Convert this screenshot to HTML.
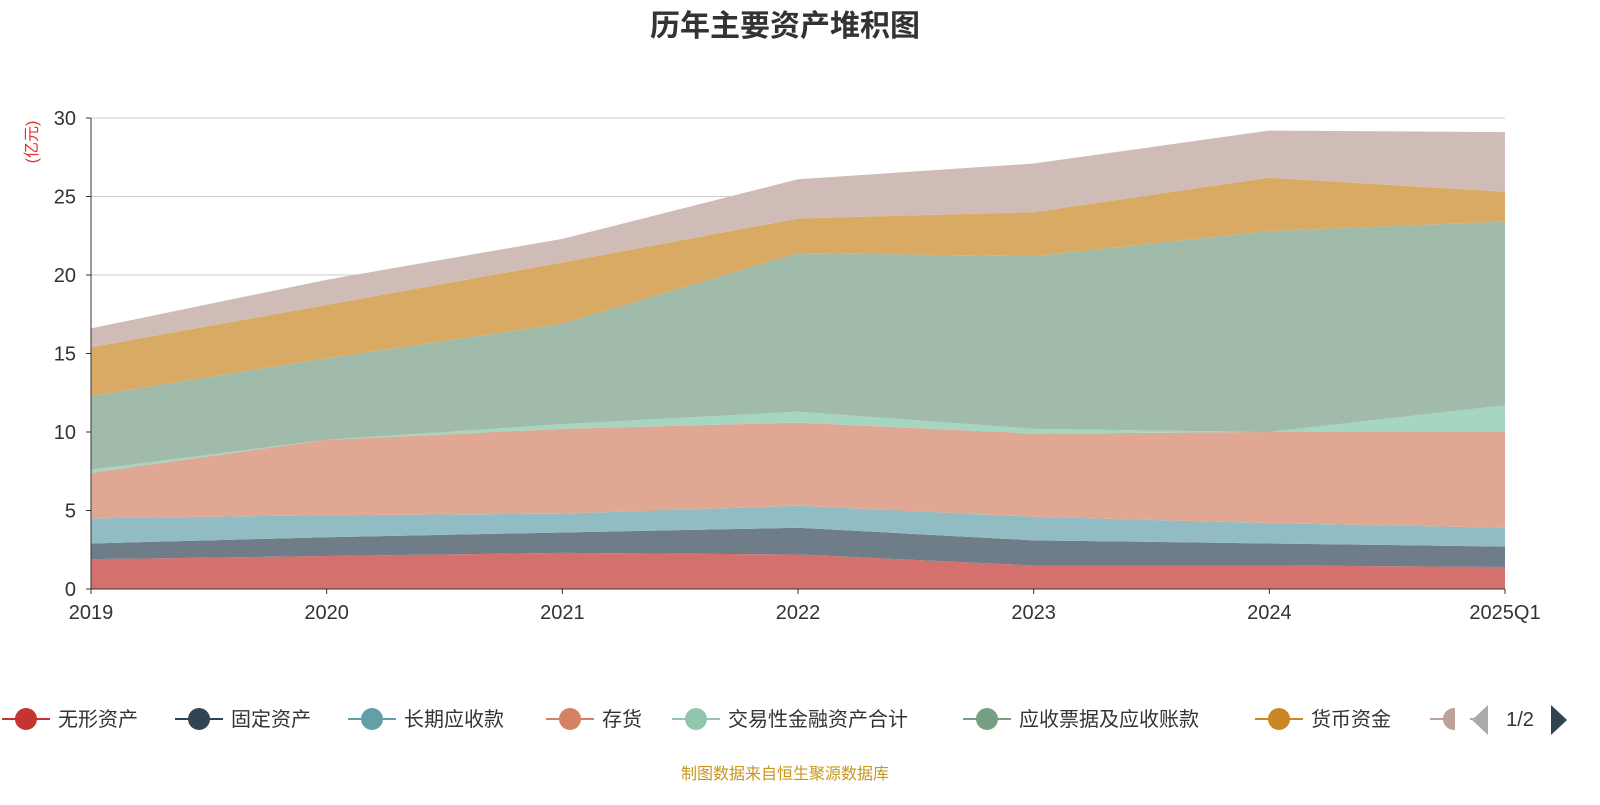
<!DOCTYPE html>
<html><head><meta charset="utf-8">
<style>
body{margin:0;background:#fff;width:1600px;height:800px;overflow:hidden;font-family:"Liberation Sans","Noto Sans CJK SC",sans-serif;}
</style></head>
<body>
<svg id="chart" width="1600" height="800" xmlns="http://www.w3.org/2000/svg" font-family="Liberation Sans, Noto Sans CJK SC, sans-serif">
<text x="785" y="36" text-anchor="middle" font-size="30" font-weight="bold" fill="#333">历年主要资产堆积图</text>
<text transform="translate(37,142) rotate(-90)" text-anchor="middle" font-size="16" fill="#e03030">(亿元)</text>
<g id="grid"></g><g id="areas"></g><g id="axes"></g><g id="legend"></g>
<text x="785" y="779" text-anchor="middle" font-size="16" fill="#c8961e">制图数据来自恒生聚源数据库</text>
</svg>
<script>
const categories=["2019","2020","2021","2022","2023","2024","2025Q1"];
const seriesNames=["无形资产","固定资产","长期应收款","存货","交易性金融资产合计","应收票据及应收账款","货币资金","其他"];
const s0=[1.9,2.1,2.3,2.2,1.5,1.5,1.4];
const s1=[1.0,1.2,1.3,1.7,1.6,1.4,1.3];
const s2=[1.6,1.4,1.2,1.4,1.5,1.3,1.2];
const s3=[2.9,4.8,5.4,5.3,5.3,5.8,6.1];
const s4=[0.2,0.0,0.3,0.7,0.3,0.0,1.7];
const s5=[4.7,5.2,6.4,10.1,11.0,12.8,11.7];
const s6=[3.1,3.4,3.9,2.2,2.8,3.4,1.9];
const s7=[1.2,1.6,1.5,2.5,3.1,3.0,3.8];
const yTicks=[0,5,10,15,20,25,30];
const series=[s0,s1,s2,s3,s4,s5,s6,s7];
const fills=["#d4716f","#6f7d88","#92bcc3","#e0a793","#a6d5c1","#a0bba9","#d9aa63","#d0bcb7"];
const icons=["#c23531","#2f4554","#61a0a8","#d48265","#91c7ae","#749f83","#ca8622","#bda29a"];
const X0=91,X1=1505,Y0=589,Y1=118;
const x=i=>X0+(X1-X0)*i/(categories.length-1);
const y=v=>Y0-(Y0-Y1)*v/30;
const NS="http://www.w3.org/2000/svg";
function mk(t,a,p){const e=document.createElementNS(NS,t);for(const k in a)e.setAttribute(k,a[k]);p.appendChild(e);return e;}
const grid=document.getElementById('grid'),axes=document.getElementById('axes'),areas=document.getElementById('areas'),legend=document.getElementById('legend');
yTicks.forEach(t=>{
 if(t>0){const l=mk('line',{x1:X0,x2:X1,y1:y(t),y2:y(t),stroke:'#ccc'},grid);
 
 }
 const tx=mk('text',{x:76,y:y(t)+7,'text-anchor':'end','font-size':20,fill:'#333'},axes);tx.textContent=t;
 
 
 mk('line',{x1:X0-5,x2:X0,y1:y(t),y2:y(t),stroke:'#333'},axes);
});
let cum=categories.map(()=>0);
series.forEach((s,k)=>{
 const top=cum.map((c,i)=>c+s[i]);
 let d='M'+categories.map((_,i)=>x(i)+','+y(top[i])).join('L');
 for(let i=categories.length-1;i>=0;i--)d+='L'+x(i)+','+y(cum[i]);
 const p=mk('path',{d:d+'Z',fill:fills[k]},areas);
 
 
 cum=top;
});
mk('line',{x1:X0,x2:X0,y1:Y1,y2:Y0,stroke:'#333'},axes);
mk('line',{x1:X0,x2:X1,y1:Y0,y2:Y0,stroke:'#333'},axes);
categories.forEach((c,i)=>{
 mk('line',{x1:x(i),x2:x(i),y1:Y0,y2:Y0+5,stroke:'#333'},axes);
 const t=mk('text',{x:x(i),y:619,'text-anchor':'middle','font-size':20,fill:'#333'},axes);t.textContent=c;
 
 
});
const lx=[2,175,348,546,672,963,1255,1430];
seriesNames.forEach((n,k)=>{
 const g=mk('g',{},legend);
 
 
 mk('line',{x1:lx[k],x2:lx[k]+48,y1:719,y2:719,stroke:icons[k],'stroke-width':2},g);
 mk('circle',{cx:lx[k]+24,cy:719,r:11,fill:icons[k]},g);
 if(k<7){const t=mk('text',{x:lx[k]+56,y:726,'font-size':20,fill:'#333'},g);t.textContent=n;}
});
mk('rect',{x:1455,y:700,width:15,height:40,fill:'#fff'},legend);
mk('path',{d:'M1488,705L1472,720L1488,735Z',fill:'#aaa'},legend);
const pg=mk('text',{x:1520,y:726,'text-anchor':'middle','font-size':20,fill:'#333'},legend);pg.textContent='1/2';


const nx=mk('path',{d:'M1551,705L1567,720L1551,735Z',fill:'#2f4554'},legend);


</script>
</body></html>
